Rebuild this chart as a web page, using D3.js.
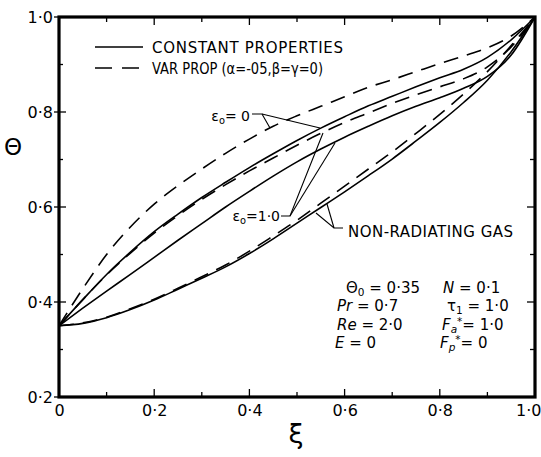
<!DOCTYPE html>
<html><head><meta charset="utf-8">
<script src="https://cdn.jsdelivr.net/npm/d3@7"></script>
<style>
body{margin:0;background:#fff}
svg text{font-family:"DejaVu Sans",sans-serif;fill:#000}
</style></head>
<body><svg id="c" width="541" height="457"></svg>
<script>
// ---- data ----
const xi = [0,0.05,0.1,0.15,0.2,0.25,0.3,0.35,0.4,0.45,0.5,0.55,0.6,0.65,0.7,0.75,0.8,0.85,0.9,0.95,1.0];
const varEps0   = [0.35,0.428,0.5,0.558,0.606,0.645,0.68,0.713,0.743,0.77,0.792,0.812,0.832,0.852,0.868,0.885,0.902,0.918,0.935,0.96,1.0];
const constEps0 = [0.35,0.405,0.458,0.505,0.548,0.585,0.62,0.652,0.683,0.712,0.74,0.766,0.79,0.813,0.833,0.853,0.872,0.89,0.915,0.952,1.0];
const varEps1   = [0.35,0.405,0.457,0.503,0.545,0.582,0.616,0.647,0.676,0.703,0.73,0.755,0.778,0.798,0.818,0.836,0.853,0.87,0.895,0.937,1.0];
const constEps1 = [0.35,0.387,0.423,0.458,0.494,0.53,0.565,0.6,0.633,0.665,0.695,0.722,0.747,0.77,0.792,0.812,0.83,0.85,0.875,0.92,1.0];
const constNonRad = [0.35,0.355,0.367,0.384,0.404,0.427,0.45,0.474,0.502,0.533,0.566,0.599,0.632,0.666,0.701,0.739,0.778,0.82,0.867,0.927,1.0];
const varNonRad   = [0.35,0.356,0.368,0.386,0.406,0.429,0.453,0.478,0.507,0.539,0.572,0.608,0.644,0.68,0.716,0.755,0.795,0.838,0.885,0.94,1.0];
const xTicks = [0,0.2,0.4,0.6,0.8,1.0];
const xTickLabels = ["0","0·2","0·4","0·6","0·8","1·0"];
const yTicks = [0.2,0.4,0.6,0.8,1.0];
const yTickLabels = ["0·2","0·4","0·6","0·8","1·0"];
const legendLabels = ["CONSTANT PROPERTIES","VAR PROP (α=-05,β=γ=0)"];

const svg = d3.select("#c");
const x = d3.scaleLinear().domain([0,1]).range([59,535]);
const y = d3.scaleLinear().domain([0.2,1.0]).range([397,17]);

const line = d3.line().x(d=>x(d[0])).y(d=>y(d[1])).curve(d3.curveMonotoneX);
const series = [
  {v:varEps0, dash:"15,9"},
  {v:constEps0, dash:null},
  {v:varEps1, dash:"15,9"},
  {v:constEps1, dash:null},
  {v:constNonRad, dash:null},
  {v:varNonRad, dash:"15,9"}
];
series.forEach(s=>{
  svg.append("path").datum(xi.map((d,i)=>[d,s.v[i]]))
    .attr("d",line).attr("fill","none").attr("stroke","#000")
    .attr("stroke-width",1.6).attr("stroke-dasharray",s.dash);
});

// axes frame
svg.append("rect").attr("x",x(0)).attr("y",y(1)).attr("width",x(1)-x(0)).attr("height",y(0.2)-y(1))
  .attr("fill","none").attr("stroke","#000").attr("stroke-width",3.2);

// ticks (inward)
const minorX = d3.range(0,1.0001,0.1);
const minorY = d3.range(0.2,1.0001,0.1);
minorX.forEach(t=>{
  const major = Math.abs(Math.round(t*10)%2)===0;
  svg.append("line").attr("x1",x(t)).attr("x2",x(t)).attr("y1",y(0.2)).attr("y2",y(0.2)-(major?8:5)).attr("stroke","#000").attr("stroke-width",1.3);
  svg.append("line").attr("x1",x(t)).attr("x2",x(t)).attr("y1",y(1)).attr("y2",y(1)+(major?8:5)).attr("stroke","#000").attr("stroke-width",1.3);
});
minorY.forEach(t=>{
  const major = Math.abs(Math.round(t*10)%2)===0;
  svg.append("line").attr("x1",x(0)-(major?5:0)).attr("x2",x(0)+(major?7:4)).attr("y1",y(t)).attr("y2",y(t)).attr("stroke","#000").attr("stroke-width",1.3);
  svg.append("line").attr("x1",x(1)).attr("x2",x(1)-(major?8:5)).attr("y1",y(t)).attr("y2",y(t)).attr("stroke","#000").attr("stroke-width",1.3);
});

const xa = svg.append("g").attr("transform",`translate(0,${y(0.2)})`)
  .call(d3.axisBottom(x).tickValues(xTicks).tickSize(0).tickPadding(8).tickFormat((d,i)=>xTickLabels[i]));
xa.select(".domain").remove();
xa.selectAll("text").attr("font-size",16).attr("font-family","DejaVu Sans").attr("dy","0.71em");
xa.selectAll("text").filter((d)=>d===1.0).attr("text-anchor","end").attr("dx",6);

const ya = svg.append("g").attr("transform",`translate(${x(0)-5},0)`)
  .call(d3.axisLeft(y).tickValues(yTicks).tickSize(0).tickPadding(1).tickFormat((d,i)=>yTickLabels[i]));
ya.select(".domain").remove();
ya.selectAll("text").attr("font-size",16).attr("font-family","DejaVu Sans");

// axis titles
svg.append("text").attr("x",13).attr("y",155).attr("text-anchor","middle").attr("font-size",23).text("Θ");
svg.append("text").attr("x",296).attr("y",443).attr("text-anchor","middle").attr("font-size",27).text("ξ");

// legend
svg.append("line").attr("x1",95).attr("x2",143).attr("y1",47).attr("y2",47).attr("stroke","#000").attr("stroke-width",1.6);
svg.append("line").attr("x1",95).attr("x2",143).attr("y1",68).attr("y2",68).attr("stroke","#000").attr("stroke-width",1.6).attr("stroke-dasharray","17,10");
svg.append("text").attr("x",152).attr("y",53).attr("font-size",15).attr("textLength",191).attr("lengthAdjust","spacing").text(legendLabels[0]);
svg.append("text").attr("x",152).attr("y",74).attr("font-size",15).attr("textLength",171).attr("lengthAdjust","spacingAndGlyphs").text(legendLabels[1]);

// annotations
function lbl(xp,yp,parts,fs,anchor){
  const t = svg.append("text").attr("x",xp).attr("y",yp).attr("font-size",fs||15);
  if(anchor) t.attr("text-anchor",anchor);
  parts.forEach(p=>{
    const ts = t.append("tspan").text(p.t);
    if(p.i) ts.attr("font-style","italic");
    if(p.sub) ts.attr("baseline-shift","-30%").attr("font-size",(fs||15)*0.7);
    if(p.sup) ts.attr("baseline-shift","45%").attr("font-size",(fs||15)*0.7);
  });
  return t;
}
lbl(250,121,[{t:"ε"},{t:"o",sub:true},{t:"= 0"}],14,"end");
lbl(280,221,[{t:"ε"},{t:"o",sub:true},{t:"=1·0"}],14,"end");
svg.append("text").attr("x",348).attr("y",237).attr("font-size",15).attr("textLength",165).attr("lengthAdjust","spacing").text("NON-RADIATING  GAS");

const ptr = [
  [[252,114],[262,114],[270,128]],
  [[262,114],[320,128]],
  [[281,216],[290,216],[323,133]],
  [[290,216],[335,143]],
  [[343,228],[334,228],[316,213]],
  [[334,228],[327,204]]
];
ptr.forEach(p=>svg.append("path").attr("d",d3.line()(p)).attr("fill","none").attr("stroke","#000").attr("stroke-width",1.1));

// parameter block
lbl(346,293,[{t:"Θ"},{t:"0",sub:true},{t:" = 0·35"}],15);
lbl(337,311,[{t:"Pr",i:true},{t:" = 0·7"}],15);
lbl(337,330,[{t:"Re",i:true},{t:" = 2·0"}],15);
lbl(335,348,[{t:"E",i:true},{t:"   = 0"}],15);
lbl(443,293,[{t:"N",i:true},{t:" = 0·1"}],15);
lbl(447,311,[{t:"τ"},{t:"1",sub:true},{t:" = 1·0"}],15);
lbl(442,330,[{t:"F",i:true},{t:"a",sub:true,i:true},{t:"*",sup:true},{t:"= 1·0"}],15);
lbl(440,348,[{t:"F",i:true},{t:"p",sub:true,i:true},{t:"*",sup:true},{t:"= 0"}],15);
</script></body></html>
